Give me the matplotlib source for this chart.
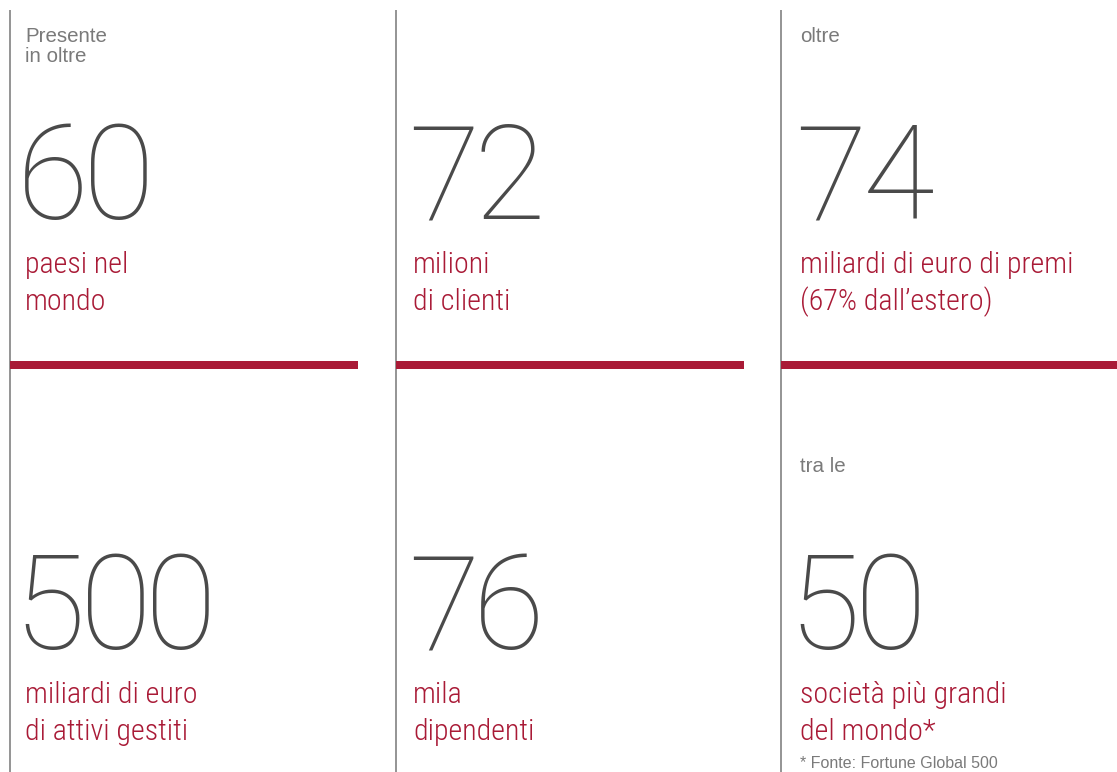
import matplotlib
matplotlib.use("Agg")
import matplotlib.pyplot as plt
from matplotlib.textpath import TextPath
from matplotlib.font_manager import FontProperties

# ---- data ----
numbers = ["60", "72", "74", "500", "76", "50"]
intro_lines = [["Presente", "in oltre"], [], ["oltre"], [], [], ["tra le"]]
caption_lines = [
    ["paesi nel", "mondo"],
    ["milioni", "di clienti"],
    ["miliardi di euro di premi", "(67% dall\u2019estero)"],
    ["miliardi di euro", "di attivi gestiti"],
    ["mila", "dipendenti"],
    ["società più grandi", "del mondo*"],
]
footnote = "* Fonte: Fortune Global 500"

# ---- style / layout ----
W, H = 1117, 772
RED = "#A91A36"
DARK = "#4a4a4a"
GREY = "#7a7a7a"
PT = 0.72  # px -> pt at dpi 100

NUM_FONT = ["Roboto", "IBM Plex Sans Condensed", "DejaVu Sans"]
CAP_FONT = ["Roboto Condensed", "Liberation Sans Narrow", "DejaVu Sans"]
SMALL_FONT = ["Liberation Sans", "DejaVu Sans"]

col_x = [10, 396, 781]
col_right = [358, 744, 1117]
text_left = [25, 413, 800]
row_top = [0, 430]
digit_gap = 9
NUM_PX = 131

fig = plt.figure(figsize=(W / 100, H / 100), dpi=100)
ax = fig.add_axes([0, 0, 1, 1])
ax.set_xlim(0, W)
ax.set_ylim(H, 0)
ax.axis("off")

num_prop = FontProperties(family=NUM_FONT, weight=100, size=NUM_PX * PT)

# vertical separators
for x in col_x:
    ax.plot([x, x], [10, H], color="#777777", lw=1.1, solid_capstyle="butt")
# red bars
for x0, x1 in zip(col_x, col_right):
    ax.plot([x0, x1], [365, 365], color=RED, lw=8 * PT, solid_capstyle="butt")

for i, num in enumerate(numbers):
    r, c = divmod(i, 3)
    x = text_left[c]
    y0 = row_top[r]
    for k, line in enumerate(intro_lines[i]):
        ax.text(x, y0 + 42 + 20 * k, line, color=GREY, fontsize=20.5 * PT,
                family=SMALL_FONT, va="baseline", ha="left")
    # big number, drawn digit by digit with tight tracking (ink-based)
    cursor = x
    for ch in num:
        ext = TextPath((0, 0), ch, size=NUM_PX, prop=num_prop).get_extents()
        ax.text(cursor - ext.x0, y0 + 219, ch, color=DARK,
                fontproperties=num_prop, va="baseline", ha="left")
        cursor += ext.width + digit_gap
    for k, line in enumerate(caption_lines[i]):
        ax.text(x, y0 + 273 + 37 * k, line, color=RED, fontsize=30 * PT,
                family=CAP_FONT, weight=300, va="baseline", ha="left")

ax.text(text_left[2], 768, footnote, color=GREY, fontsize=16 * PT,
        family=SMALL_FONT, va="baseline", ha="left")

fig.savefig("out.png", dpi=100)
